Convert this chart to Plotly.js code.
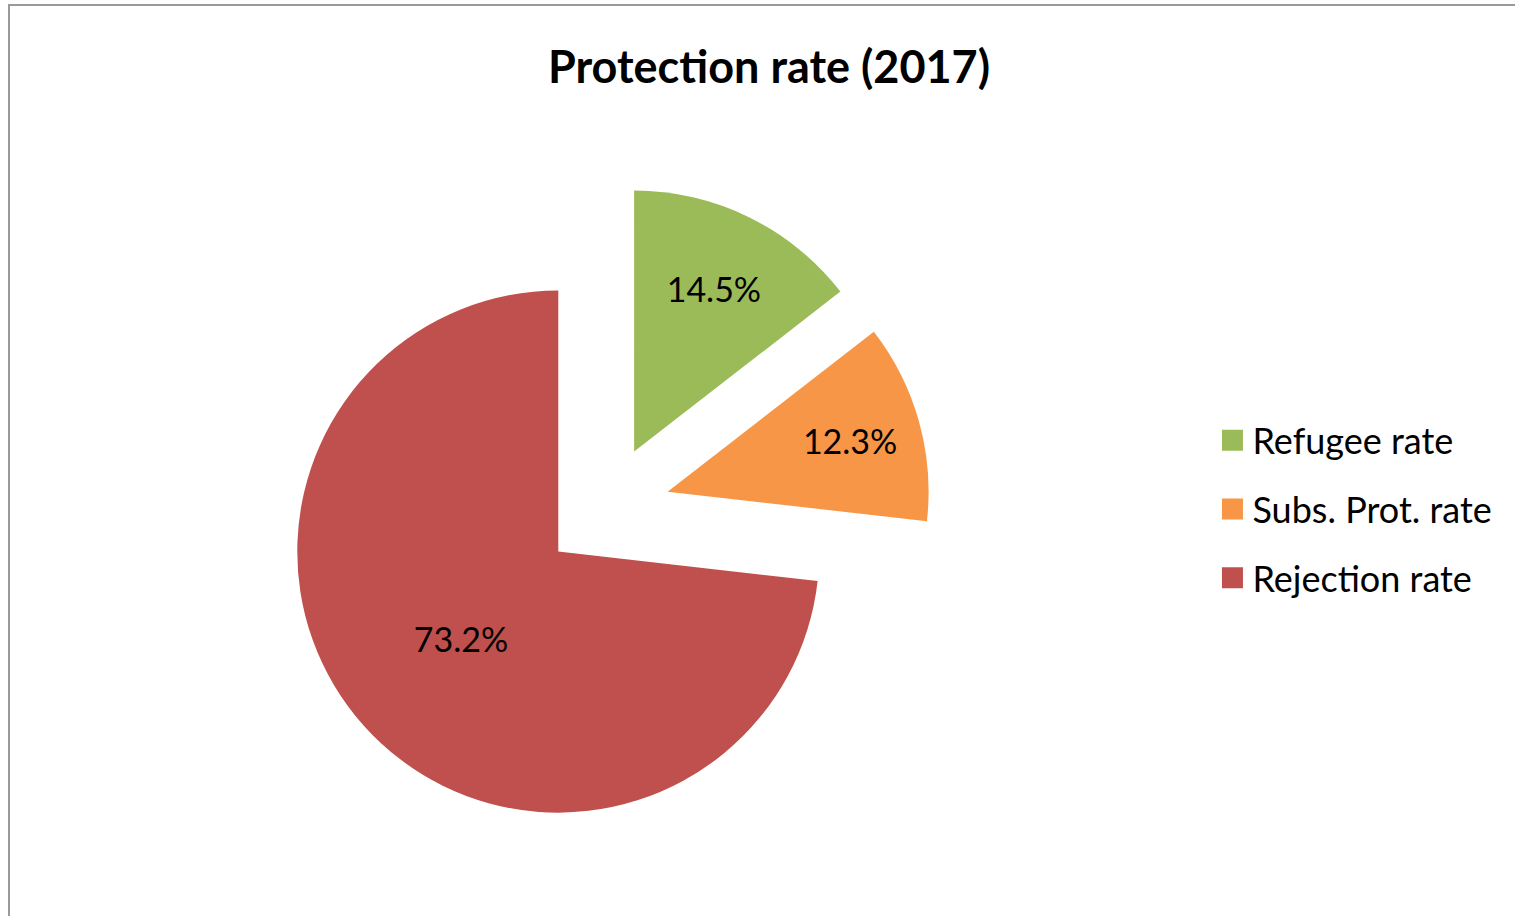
<!DOCTYPE html>
<html>
<head>
<meta charset="utf-8">
<script src="https://cdn.plot.ly/plotly-3.0.1.min.js"></script>
<style>html,body{margin:0;padding:0;background:#fff;}#chart{width:1515px;height:916px;}</style>
</head>
<body>
<div id="chart"></div>
<script>
// Data
const categories = ["Refugee rate", "Subs. Prot. rate", "Rejection rate"];
const shares = [14.5, 12.3, 73.2];
const sliceColors = ["#9BBB59", "#F79646", "#C0504D"];
const chartTitle = "Protection rate (2017)";

const FONT = "Lato, 'Open Sans', sans-serif";

const pieTrace = {
  type: "pie",
  labels: categories,
  values: shares,
  sort: false,
  direction: "clockwise",
  rotation: 0,
  pull: 0.245,
  marker: {colors: sliceColors, line: {width: 0}},
  textinfo: "percent",
  textposition: "inside",
  insidetextorientation: "horizontal",
  textfont: {family: FONT, size: 34, color: "#000"},
  showlegend: false,
  hoverinfo: "label+percent",
  domain: {x: [0.1855, 0.6145], y: [0.0895, 0.7991]}
};

// Legend entries (one per category) drawn from the same arrays
const legendTraces = categories.map((c, i) => ({
  type: "scatter",
  mode: "markers",
  x: [null],
  y: [null],
  name: c,
  legendgroup: "g" + i,
  marker: {symbol: "square", size: 16, color: sliceColors[i], line: {width: 5, color: sliceColors[i]}},
  hoverinfo: "skip",
  showlegend: true
}));

const layout = {
  width: 1515,
  height: 916,
  margin: {l: 0, r: 0, t: 0, b: 0},
  paper_bgcolor: "#fff",
  plot_bgcolor: "#fff",
  font: {family: FONT, color: "#000"},
  title: {
    text: "<b>" + chartTitle + "</b>",
    font: {family: FONT, size: 45, color: "#000"},
    x: 0.5076, xanchor: "center",
    y: 0.927, yanchor: "middle"
  },
  xaxis: {visible: false},
  yaxis: {visible: false},
  showlegend: true,
  legend: {
    x: 0.8003, xanchor: "left",
    y: 0.552, yanchor: "top",
    traceorder: "grouped",
    tracegroupgap: 19,
    font: {family: FONT, size: 36, color: "#000"},
    bgcolor: "rgba(0,0,0,0)"
  },
  shapes: [{
    type: "rect", xref: "paper", yref: "paper",
    x0: 9 / 1515, x1: 1.02, y0: -0.02, y1: 1 - 5 / 916,
    line: {color: "#9a9a9a", width: 2},
    fillcolor: "rgba(0,0,0,0)",
    layer: "below"
  }]
};

Plotly.newPlot("chart", [pieTrace].concat(legendTraces), layout, {displayModeBar: false, responsive: false});
</script>
</body>
</html>
